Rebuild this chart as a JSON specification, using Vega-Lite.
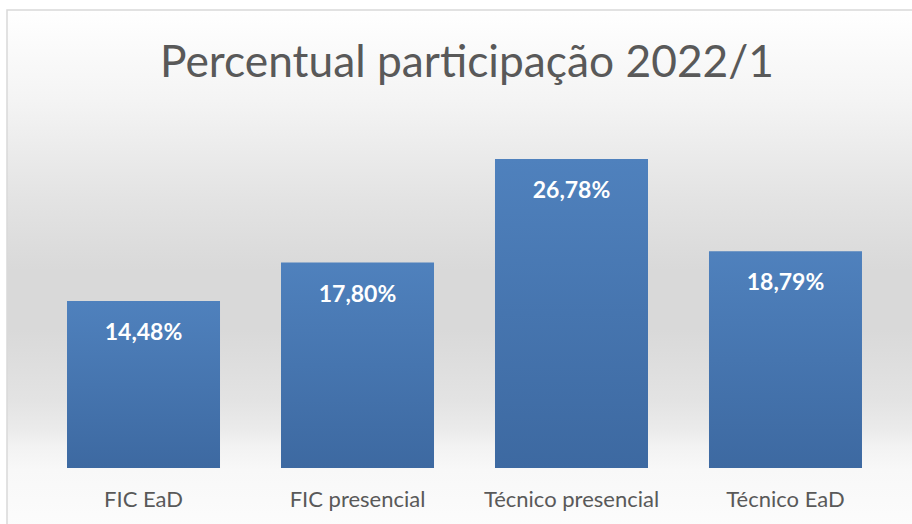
{
  "$schema": "https://vega.github.io/schema/vega-lite/v6.json",
  "width": 915,
  "height": 520,
  "autosize": {"type": "none"},
  "padding": {"left": 7, "top": 10, "right": -10, "bottom": -6},
  "background": "#ffffff",
  "title": {
    "text": "Percentual participação 2022/1",
    "font": "Lato",
    "fontSize": 44.3,
    "fontWeight": "normal",
    "color": "#595959",
    "baseline": "alphabetic",
    "offset": 0,
    "dy": 111,
    "anchor": "start",
    "dx": 153
  },
  "config": {
    "locale": {"number": {"decimal": ",", "thousands": ".", "grouping": [3], "currency": ["R$", ""]}},
    "view": {
      "stroke": "#d9d9d9",
      "strokeWidth": 1.5,
      "fill": {
        "gradient": "linear",
        "x1": 0, "y1": 0, "x2": 0, "y2": 1,
        "stops": [
          {"offset": 0, "color": "#ffffff"},
          {"offset": 0.173, "color": "#f4f4f4"},
          {"offset": 0.365, "color": "#e3e3e3"},
          {"offset": 0.5, "color": "#d9d9d9"},
          {"offset": 0.615, "color": "#d9d9d9"},
          {"offset": 0.75, "color": "#e3e3e3"},
          {"offset": 0.808, "color": "#ebebeb"},
          {"offset": 0.837, "color": "#f2f2f2"},
          {"offset": 0.885, "color": "#f8f8f8"},
          {"offset": 1, "color": "#fcfcfc"}
        ]
      }
    }
  },
  "data": {
    "values": [
      {"categoria": "FIC EaD", "valor": 0.1448},
      {"categoria": "FIC presencial", "valor": 0.178},
      {"categoria": "Técnico presencial", "valor": 0.2678},
      {"categoria": "Técnico EaD", "valor": 0.1879}
    ]
  },
  "encoding": {
    "x": {
      "field": "categoria",
      "type": "nominal",
      "sort": null,
      "scale": {"paddingInner": 0.285, "paddingOuter": 0.2804, "align": 0.5},
      "axis": {
        "title": null,
        "labelAngle": 0,
        "domain": false,
        "ticks": false,
        "tickSize": 0,
        "offset": -62,
        "labelFont": "Lato",
        "labelFontSize": 22,
        "labelColor": "#595959",
        "labelBaseline": "alphabetic",
        "labelPadding": 38
      }
    },
    "y": {
      "field": "valor",
      "type": "quantitative",
      "scale": {"domain": [-0.0537, 0.3969], "nice": false, "zero": false},
      "axis": null
    }
  },
  "layer": [
    {
      "mark": {
        "type": "bar",
        "color": {
          "gradient": "linear",
          "x1": 0, "y1": 0, "x2": 0, "y2": 1,
          "stops": [
            {"offset": 0, "color": "#4f81bd"},
            {"offset": 1, "color": "#3d69a1"}
          ]
        }
      },
      "encoding": {
        "y2": {"datum": 0}
      }
    },
    {
      "mark": {
        "type": "text",
        "baseline": "alphabetic",
        "dy": 39,
        "font": "Lato",
        "fontSize": 23,
        "fontWeight": "bold",
        "color": "#ffffff"
      },
      "encoding": {
        "text": {"field": "valor", "type": "quantitative", "format": ".2%"}
      }
    }
  ]
}
